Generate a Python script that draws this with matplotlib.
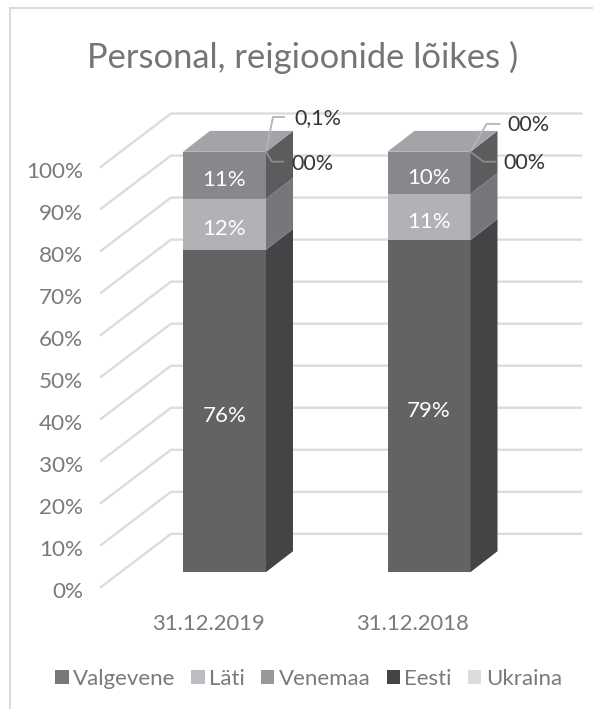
import numpy as np
import matplotlib
matplotlib.use('Agg')
import matplotlib.pyplot as plt
from matplotlib.patches import Polygon, Patch
from matplotlib.lines import Line2D

W, H = 593, 709

categories = ['31.12.2019', '31.12.2018']
series_names = ['Eesti', 'Läti', 'Venemaa', 'Valgevene', 'Ukraina']
eesti = [76, 79]
lati = [12, 11]
venemaa = [11, 10]
valgevene = [0.1, 0]
ukraina = [0, 0]
bar_labels = [['76%', '12%', '11%', '0,1%', '00%'],
              ['79%', '11%', '10%', '00%', '00%']]
y_ticks = list(range(0, 101, 10))
legend_order = ['Valgevene', 'Läti', 'Venemaa', 'Eesti', 'Ukraina']

front_col = {'Eesti': '#636365', 'Läti': '#b1b2b5', 'Venemaa': '#87888b',
             'Valgevene': '#6e6f72', 'Ukraina': '#d9dadc'}
side_col = {'Eesti': '#434446', 'Läti': '#76777a', 'Venemaa': '#5b5c5e',
            'Valgevene': '#4c4d4f', 'Ukraina': '#9a9b9d'}
legend_col = {'Eesti': '#444547', 'Läti': '#bcbdc1', 'Venemaa': '#97989b',
              'Valgevene': '#77787c', 'Ukraina': '#dbdcde'}
GRID = '#dcdcdc'
TEXT = '#7a7a7a'
LABEL = '#363636'

plt.rcParams['font.family'] = ['Lato', 'DejaVu Sans']

fig = plt.figure(figsize=(W / 100, H / 100), dpi=100)
fig.patch.set_facecolor('white')

# plot area runs from the front-left corner of the floor to the wall's right edge
PX_LEFT, PX_RIGHT = 101, 581
PX_Y0, PX_TOP = 590, 113.5
PX_PER_PCT = 4.23
ax = fig.add_axes([PX_LEFT / W, 1 - PX_Y0 / H, (PX_RIGHT - PX_LEFT) / W, (PX_Y0 - PX_TOP) / H])

# category 0 is centred on pixel 224.5, category 1 on pixel 429
PX_PER_CAT = 204.5
ax.set_xlim((PX_LEFT - 224.5) / PX_PER_CAT, (PX_RIGHT - 224.5) / PX_PER_CAT)
ax.set_ylim(0, (PX_Y0 - PX_TOP) / PX_PER_PCT)
ax.patch.set_visible(False)
for s in ax.spines.values():
    s.set_visible(False)

cx = 1 / PX_PER_CAT
cy = 1 / PX_PER_PCT
x_min = ax.get_xlim()[0]


def shift(x, y, dx_px, dy_px):
    # move a data point by a pixel offset, used for the oblique depth
    return x + dx_px * cx, y + dy_px * cy


# back wall and diagonal floor/side lines
WALL_DX, WALL_DY = 70, 53.5
for t in y_ticks:
    x0, y0 = x_min, t
    x1, y1 = shift(x0, y0, WALL_DX, WALL_DY)
    ax.plot([x0, x1, ax.get_xlim()[1]], [y0, y1, y1], color=GRID, lw=1.7, zorder=1, clip_on=False)

# tick labels sit a little below their gridline ends
ax.set_yticks([t - 3 * cy for t in y_ticks])
ax.set_yticklabels([f'{t}%' for t in y_ticks])
ax.tick_params(axis='y', length=0, pad=13, labelsize=16.2, labelcolor=TEXT)
# category labels are centred on the floor, not on the lifted bars
ax.set_xticks([c - 16 * cx for c in range(len(categories))])
ax.set_xticklabels(categories)
ax.tick_params(axis='x', length=0, pad=17, labelsize=15.8, labelcolor=TEXT)

# bars sit 15 px above the front edge and are 27 px wide / 21 px tall in depth
BAR_W = 0.5 * 83 / PX_PER_CAT
LIFT = 15
DEPTH_X, DEPTH_Y = 27, 21

values = np.array([eesti, lati, venemaa, valgevene, ukraina], dtype=float)
shares = values / values.sum(axis=0) * 100

# leader geometry per bar: elbow dx, elbow dy, end dx, text dx, text dy
upper_leader = [(7, 35, 18, 28, 34), (16, 28, 29, 37, 27)]
lower_leader = [(6, -10, 17, 25, -12), (13, -10, 25, 33, -11)]

for c in range(len(categories)):
    left, right = c - BAR_W, c + BAR_W
    bottom = 0.0
    for s, name in enumerate(series_names):
        top = bottom + shares[s, c]
        yb = bottom + LIFT * cy
        yt = top + LIFT * cy
        ax.add_patch(Polygon([(left, yb), (right, yb), (right, yt), (left, yt)],
                             closed=True, fc=front_col[name], ec='none', zorder=3, clip_on=False))
        ax.add_patch(Polygon([(right, yb), shift(right, yb, DEPTH_X, DEPTH_Y),
                              shift(right, yt, DEPTH_X, DEPTH_Y), (right, yt)],
                             closed=True, fc=side_col[name], ec='none', zorder=3, clip_on=False))
        if shares[s, c] > 1:
            ax.text(c, (yb + yt) / 2 - 5 * cy, bar_labels[c][s], color='white', fontsize=16,
                    ha='center', va='center', zorder=5)
        bottom = top
    y_top = bottom + LIFT * cy
    ax.add_patch(Polygon([(left, y_top), (right, y_top), shift(right, y_top, DEPTH_X, DEPTH_Y),
                          shift(left, y_top, DEPTH_X, DEPTH_Y)],
                         closed=True, fc='#a3a4a7', ec='none', zorder=3, clip_on=False))

    # leader lines for the two thin top segments
    ex, ey, end, tx, ty = upper_leader[c]
    ax.plot(*zip((right, y_top), shift(right, y_top, ex, ey), shift(right, y_top, end, ey)),
            color='#b5b5b5', lw=1.3, zorder=6, clip_on=False)
    ax.text(*shift(right, y_top, tx, ty), bar_labels[c][3], color=LABEL, fontsize=15.5,
            ha='left', va='center', zorder=6, clip_on=False)
    ex, ey, end, tx, ty = lower_leader[c]
    ax.plot(*zip((right, y_top), shift(right, y_top, ex, ey), shift(right, y_top, end, ey)),
            color='#8c8c8c', lw=1.3, zorder=6, clip_on=False)
    ax.text(*shift(right, y_top, tx, ty), bar_labels[c][4], color=LABEL, fontsize=15.5,
            ha='left', va='center', zorder=6, clip_on=False)

fig.text(302.5 / W, 1 - 57 / H, 'Personal, reigioonide lõikes )', color='#757575', fontsize=24.8, ha='center', va='center')

handles = [Patch(fc=legend_col[n], ec='none', label=n) for n in legend_order]
fig.legend(handles=handles, loc='center', bbox_to_anchor=(308.5 / W, 1 - 679 / H), ncol=5, frameon=False,
           fontsize=16, labelcolor=TEXT, handlelength=0.6, handleheight=0.6, handletextpad=0.2,
           columnspacing=0.72)

# chart border, only the left and top edges fall inside the frame
fig.add_artist(Line2D([10 / W, 10 / W], [0, 1 - 8 / H], color=GRID, lw=1.5))
fig.add_artist(Line2D([10 / W, 1], [1 - 8 / H, 1 - 8 / H], color=GRID, lw=1.5))

fig.savefig('out.png', dpi=100)
